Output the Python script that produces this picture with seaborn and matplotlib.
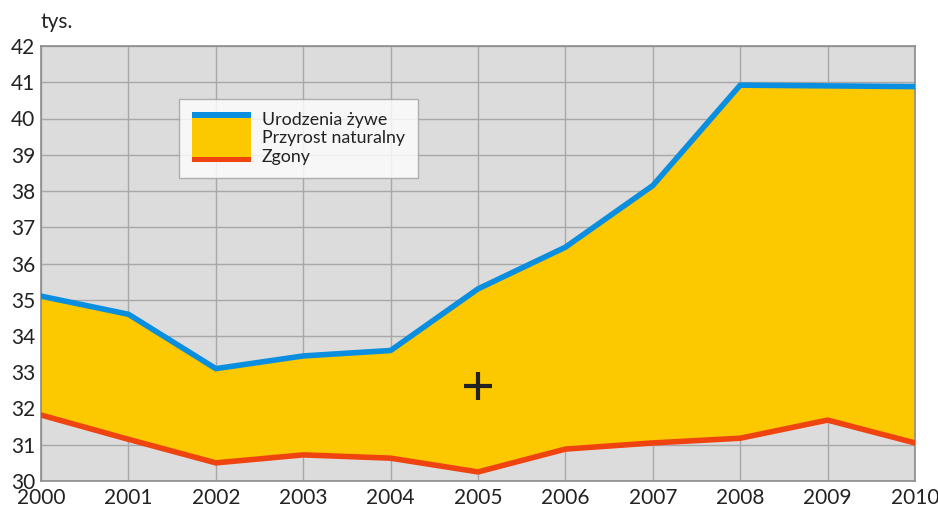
import numpy as np
import pandas as pd
import matplotlib
matplotlib.use("Agg")
import matplotlib.pyplot as plt
import seaborn as sns
from matplotlib.legend_handler import HandlerBase
from matplotlib.patches import Rectangle

years = [2000, 2001, 2002, 2003, 2004, 2005, 2006, 2007, 2008, 2009, 2010]
births = [35.1, 34.6, 33.1, 33.45, 33.6, 35.3, 36.45, 38.15, 40.92, 40.9, 40.88]
deaths = [31.82, 31.15, 30.5, 30.72, 30.63, 30.25, 30.88, 31.05, 31.18, 31.68, 31.05]
labels = ["Urodzenia żywe", "Przyrost naturalny", "Zgony"]
marker_pt = (2005, 32.62)

BLUE = "#0a8ee0"
YELLOW = "#fcc800"
RED = "#f04410"

df = pd.DataFrame({"year": years, "births": births, "deaths": deaths})

sns.set_theme(style="white")
plt.rcParams["font.family"] = ["Lato", "DejaVu Sans"]

fig = plt.figure(figsize=(9.38, 5.08), dpi=100)
ax = fig.add_axes([41/938, 27/508, (915-41)/938, (481-46)/508])
ax.set_facecolor("#dcdcdc")

ax.fill_between(df["year"], df["deaths"], df["births"], color=YELLOW, zorder=2, lw=0)
sns.lineplot(data=df, x="year", y="births", ax=ax, color=BLUE, lw=4.0, zorder=3)
sns.lineplot(data=df, x="year", y="deaths", ax=ax, color=RED, lw=4.0, zorder=3)
ax.plot([marker_pt[0]], [marker_pt[1]], marker="+", color="#222222", ms=20, mew=3, zorder=4)

ax.set_xlim(2000, 2010)
ax.set_ylim(30, 42)
ax.set_xticks(years)
ax.set_yticks(range(30, 43))
ax.grid(True, color="#a8a8a8", lw=1, zorder=1)
ax.set_axisbelow(True)
for s in ax.spines.values():
    s.set_color("#8c8c8c")
    s.set_linewidth(1.2)
ax.tick_params(length=0, labelsize=15, colors="#222222", pad=4)
ax.tick_params(axis="x", pad=5)
ax.set_xlabel("")
ax.set_ylabel("")
fig.text(40/938, 1 - 22/508, "tys.", fontsize=15, color="#222222", va="center", ha="left")


class Empty(HandlerBase):
    def create_artists(self, legend, orig_handle, xdescent, ydescent, width, height, fontsize, trans):
        return [Rectangle((0, 0), 0, 0, facecolor="none", edgecolor="none", transform=trans)]


class Combo(HandlerBase):
    def create_artists(self, legend, orig_handle, xdescent, ydescent, width, height, fontsize, trans):
        x0 = -xdescent
        pitch = fontsize * 1.08
        cy = -ydescent + height / 2
        half = pitch * 1.3
        bot = cy - half
        top = cy + half
        band = 4.0
        arts = [
            Rectangle((x0, bot), width, top - bot, facecolor=YELLOW, edgecolor="none", transform=trans),
            Rectangle((x0, top - band), width, band, facecolor=BLUE, edgecolor="none", transform=trans),
            Rectangle((x0, bot), width, band, facecolor=RED, edgecolor="none", transform=trans),
        ]
        return arts


h1, h2, h3 = object(), object(), object()
leg = ax.legend([h1, h2, h3], labels,
                handler_map={h1: Empty(), h2: Combo(), h3: Empty()},
                loc="upper left", bbox_to_anchor=((179-41)/874, 1 - (99-46)/435),
                frameon=True, fancybox=False, edgecolor="#a0a0a0", facecolor="white",
                fontsize=12.8, labelspacing=0.12, handlelength=3.3, handletextpad=0.62,
                borderpad=0.75, borderaxespad=0)
leg.get_frame().set_linewidth(1.0)
for t in leg.get_texts():
    t.set_color("#222222")

fig.savefig("out.png", dpi=100)
